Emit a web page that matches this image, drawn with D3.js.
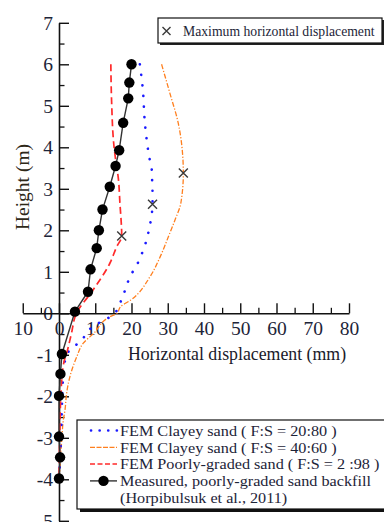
<!DOCTYPE html>
<html><head><meta charset="utf-8">
<script src="https://cdn.jsdelivr.net/npm/d3@7"></script>
<style>
html,body{margin:0;padding:0;background:#fff;}
svg{display:block;}
svg text{font-family:'Liberation Serif', Tinos, 'Times New Roman', Times, 'Nimbus Roman', 'DejaVu Serif', serif !important;}
</style></head>
<body>
<svg id="c" width="384" height="522"></svg>
<script>
// ---- data ----
const measuredH = [6.0, 5.56, 5.18, 4.59, 3.93, 3.55, 3.05, 2.5, 2.0, 1.57, 1.06, 0.52, 0.04, -0.98, -1.46, -1.99, -2.97, -3.47, -3.98];
const measuredX = [20.0, 19.4, 19.1, 17.7, 16.6, 15.6, 14.0, 12.0, 11.0, 10.4, 8.7, 8.0, 4.4, 0.8, 0.4, 0.0, 0.0, 0.3, 0.0];

const poorlyH = [6.0, 5.14, 4.0, 3.53, 3.3, 2.66, 1.86, 1.6, 1.2, 0.55, 0.0, -0.5, -0.9, -1.2, -2.0, -3.0, -4.0];
const poorlyX = [14.3, 14.5, 15.2, 15.9, 16.3, 16.8, 17.3, 15.9, 14.0, 9.3, 4.8, 3.4, 2.3, 1.3, 0.5, 0.2, 0.0];

const clayey2080H = [6.0, 5.42, 4.58, 3.76, 3.45, 3.17, 2.89, 2.63, 2.33, 2.05, 1.78, 1.54, 1.24, 0.88, 0.48, 0.24, 0.0, -0.16, -0.3, -0.48, -0.72, -0.88, -1.13, -1.44, -2.25, -3.05, -3.85, -4.0];
const clayey2080X = [22.3, 23.1, 23.7, 24.9, 25.6, 25.7, 25.8, 25.8, 25.5, 24.9, 24.2, 23.3, 21.9, 19.6, 17.9, 16.8, 15.3, 12.7, 9.5, 7.8, 5.3, 3.0, 1.7, 1.2, 0.8, 0.55, 0.1, 0.0];

const clayey4060H = [6.0, 5.3, 4.58, 4.1, 3.37, 2.65, 2.25, 1.85, 1.36, 0.88, 0.32, 0.16, 0.0, -0.08, -0.48, -0.72, -1.05, -1.53, -1.93, -2.33, -2.57, -3.0, -3.5, -4.0];
const clayey4060X = [28.3, 30.6, 32.9, 33.8, 34.3, 33.6, 32.0, 30.2, 27.9, 25.1, 19.8, 17.0, 16.0, 14.1, 9.6, 6.7, 4.9, 3.0, 2.1, 1.65, 1.2, 0.8, 0.4, 0.1];

const maxH = [1.86, 2.63, 3.38];
const maxX = [17.3, 25.8, 34.3];

const xTicks = [-10, 0, 10, 20, 30, 40, 50, 60, 70, 80];
const xTickLabels = ["10", "0", "10", "20", "30", "40", "50", "60", "70", "80"];
const yTicks = [7, 6, 5, 4, 3, 2, 1, 0, -1, -2, -3, -4, -5];
const yTickLabels = ["7", "6", "5", "4", "3", "2", "1", "0", "-1", "-2", "-3", "-4", "-5"];

const legendLabels = [
  "FEM Clayey sand ( F:S = 20:80 )",
  "FEM Clayey sand ( F:S = 40:60 )",
  "FEM Poorly-graded sand ( F:S = 2 :98 )",
  "Measured, poorly-graded sand backfill",
  "(Horpibulsuk et al., 2011)"
];
const maxLabel = "Maximum horizontal displacement";
const xTitle = "Horizontal displacement (mm)";
const yTitle = "Height (m)";

// ---- chart ----
const FONT = "'Liberation Serif', Tinos, 'Times New Roman', Times, serif";
const svg = d3.select("#c").attr("font-family", FONT);
const x = d3.scaleLinear().domain([-10, 80]).range([22.75, 349]);
const y = d3.scaleLinear().domain([-5, 7]).range([520.8, 22.8]);
const x0 = x(0), y0 = y(0);
const tickColor = "#1d2438";

// y axis (ticks pointing right, labels left)
const yAxis = d3.axisLeft(y).tickValues(yTicks)
  .tickFormat((d, i) => yTickLabels[i]).tickSizeInner(-10).tickSizeOuter(0).tickPadding(6);
const gy = svg.append("g").attr("transform", `translate(${x0},0)`).call(yAxis).attr("font-family", FONT);
gy.select(".domain").attr("stroke", "#111").attr("stroke-width", 1.6);
gy.selectAll(".tick line").attr("stroke", "#111").attr("stroke-width", 1.4);
gy.selectAll(".tick text").attr("font-size", 19.5).attr("fill", tickColor);
const yMinor = d3.range(-4.5, 7, 1);
svg.append("g").attr("transform", `translate(${x0},0)`)
  .call(d3.axisLeft(y).tickValues(yMinor).tickSizeInner(-5.5).tickSizeOuter(0).tickFormat(""))
  .call(g => { g.select(".domain").remove(); g.selectAll("line").attr("stroke", "#111").attr("stroke-width", 1.3); });

// x axis (ticks pointing up, labels below)
const xAxis = d3.axisBottom(x).tickValues(xTicks)
  .tickFormat((d, i) => xTickLabels[i]).tickSizeInner(-10).tickSizeOuter(0).tickPadding(8);
const gx = svg.append("g").attr("transform", `translate(0,${y0})`).call(xAxis).attr("font-family", FONT);
gx.select(".domain").attr("stroke", "#111").attr("stroke-width", 1.6);
gx.selectAll(".tick line").attr("stroke", "#111").attr("stroke-width", 1.4);
gx.selectAll(".tick text").attr("font-size", 19.5).attr("fill", tickColor);
const xMinor = d3.range(-5, 80, 10);
svg.append("g").attr("transform", `translate(0,${y0})`)
  .call(d3.axisBottom(x).tickValues(xMinor).tickSizeInner(-5.5).tickSizeOuter(0).tickFormat(""))
  .call(g => { g.select(".domain").remove(); g.selectAll("line").attr("stroke", "#111").attr("stroke-width", 1.3); });

// titles
svg.append("text").attr("x", 237).attr("y", 360).attr("text-anchor", "middle")
  .attr("font-size", 17.8).attr("fill", "#1a1a2a").text(xTitle);
svg.append("text").attr("transform", "translate(29,187) rotate(-90)").attr("text-anchor", "middle")
  .attr("font-size", 19.5).attr("fill", "#2e2818").text(yTitle);

// series
const line = d3.line().x(d => x(d[0])).y(d => y(d[1])).curve(d3.curveMonotoneY);
const zipXY = (xs, hs) => xs.map((v, i) => [v, hs[i]]);

svg.append("path").datum(zipXY(clayey4060X, clayey4060H)).attr("d", line)
  .attr("fill", "none").attr("stroke", "#ff7f1e").attr("stroke-width", 1.3)
  .attr("stroke-dasharray", "5,1.8,1.2,1.8");
svg.append("path").datum(zipXY(clayey2080X, clayey2080H)).attr("d", line)
  .attr("fill", "none").attr("stroke", "#1a1aff").attr("stroke-width", 2.6)
  .attr("stroke-linecap", "round").attr("stroke-dasharray", "0.1,10.5");
svg.append("path").datum(zipXY(poorlyX, poorlyH)).attr("d", line)
  .attr("fill", "none").attr("stroke", "#ff2a2a").attr("stroke-width", 1.7)
  .attr("stroke-dasharray", "7,4");

const mline = d3.line().x(d => x(d[0])).y(d => y(d[1]));
svg.append("path").datum(zipXY(measuredX, measuredH)).attr("d", mline)
  .attr("fill", "none").attr("stroke", "#333").attr("stroke-width", 1.4);
svg.append("g").selectAll("circle").data(zipXY(measuredX, measuredH)).join("circle")
  .attr("cx", d => x(d[0])).attr("cy", d => y(d[1])).attr("r", 5.2).attr("fill", "#000");

// max markers
const cross = (g, cx, cy, s) => {
  g.append("path").attr("d", `M${cx - s},${cy - s}L${cx + s},${cy + s}M${cx - s},${cy + s}L${cx + s},${cy - s}`)
    .attr("stroke", "#3a3a3a").attr("stroke-width", 1.4).attr("fill", "none");
};
const gm = svg.append("g");
maxX.forEach((v, i) => cross(gm, x(v), y(maxH[i]), 4.5));

// top legend
const tl = svg.append("g");
tl.append("rect").attr("x", 160).attr("y", 20).attr("width", 224).attr("height", 25).attr("fill", "#222");
tl.append("rect").attr("x", 158).attr("y", 18).attr("width", 224).attr("height", 25)
  .attr("fill", "#fff").attr("stroke", "#111").attr("stroke-width", 1.2);
cross(tl, 166.5, 31, 4);
tl.append("text").attr("x", 183).attr("y", 35.5).attr("font-size", 13.7).attr("fill", "#1d2438").text(maxLabel);

// bottom legend
const bl = svg.append("g");
bl.append("rect").attr("x", 80).attr("y", 423).attr("width", 310).attr("height", 89).attr("fill", "#111");
bl.append("rect").attr("x", 77).attr("y", 420).attr("width", 310).attr("height", 89)
  .attr("fill", "#fff").attr("stroke", "#111").attr("stroke-width", 1.2);
const rowY = [430.5, 447.3, 464.1, 480.9, 497.7];
const sx1 = 90, sx2 = 117;
bl.append("line").attr("x1", sx1 + 1).attr("x2", sx2).attr("y1", rowY[0]).attr("y2", rowY[0])
  .attr("stroke", "#1a1aff").attr("stroke-width", 2.6).attr("stroke-linecap", "round").attr("stroke-dasharray", "0.1,8.5");
bl.append("line").attr("x1", sx1).attr("x2", sx2).attr("y1", rowY[1]).attr("y2", rowY[1])
  .attr("stroke", "#ff7f1e").attr("stroke-width", 1.3).attr("stroke-dasharray", "5,1.5");
bl.append("line").attr("x1", sx1).attr("x2", sx2).attr("y1", rowY[2]).attr("y2", rowY[2])
  .attr("stroke", "#ff2a2a").attr("stroke-width", 1.5).attr("stroke-dasharray", "5,2.5");
bl.append("line").attr("x1", sx1).attr("x2", sx2).attr("y1", rowY[3]).attr("y2", rowY[3])
  .attr("stroke", "#333").attr("stroke-width", 1.4);
bl.append("circle").attr("cx", (sx1 + sx2) / 2).attr("cy", rowY[3]).attr("r", 5.2).attr("fill", "#000");
legendLabels.forEach((t, i) => {
  bl.append("text").attr("transform", `translate(120,${rowY[i] + 5.3}) scale(1.08,1)`)
    .attr("font-size", 15).attr("fill", "#1d2438").text(t);
});
</script>
</body></html>
